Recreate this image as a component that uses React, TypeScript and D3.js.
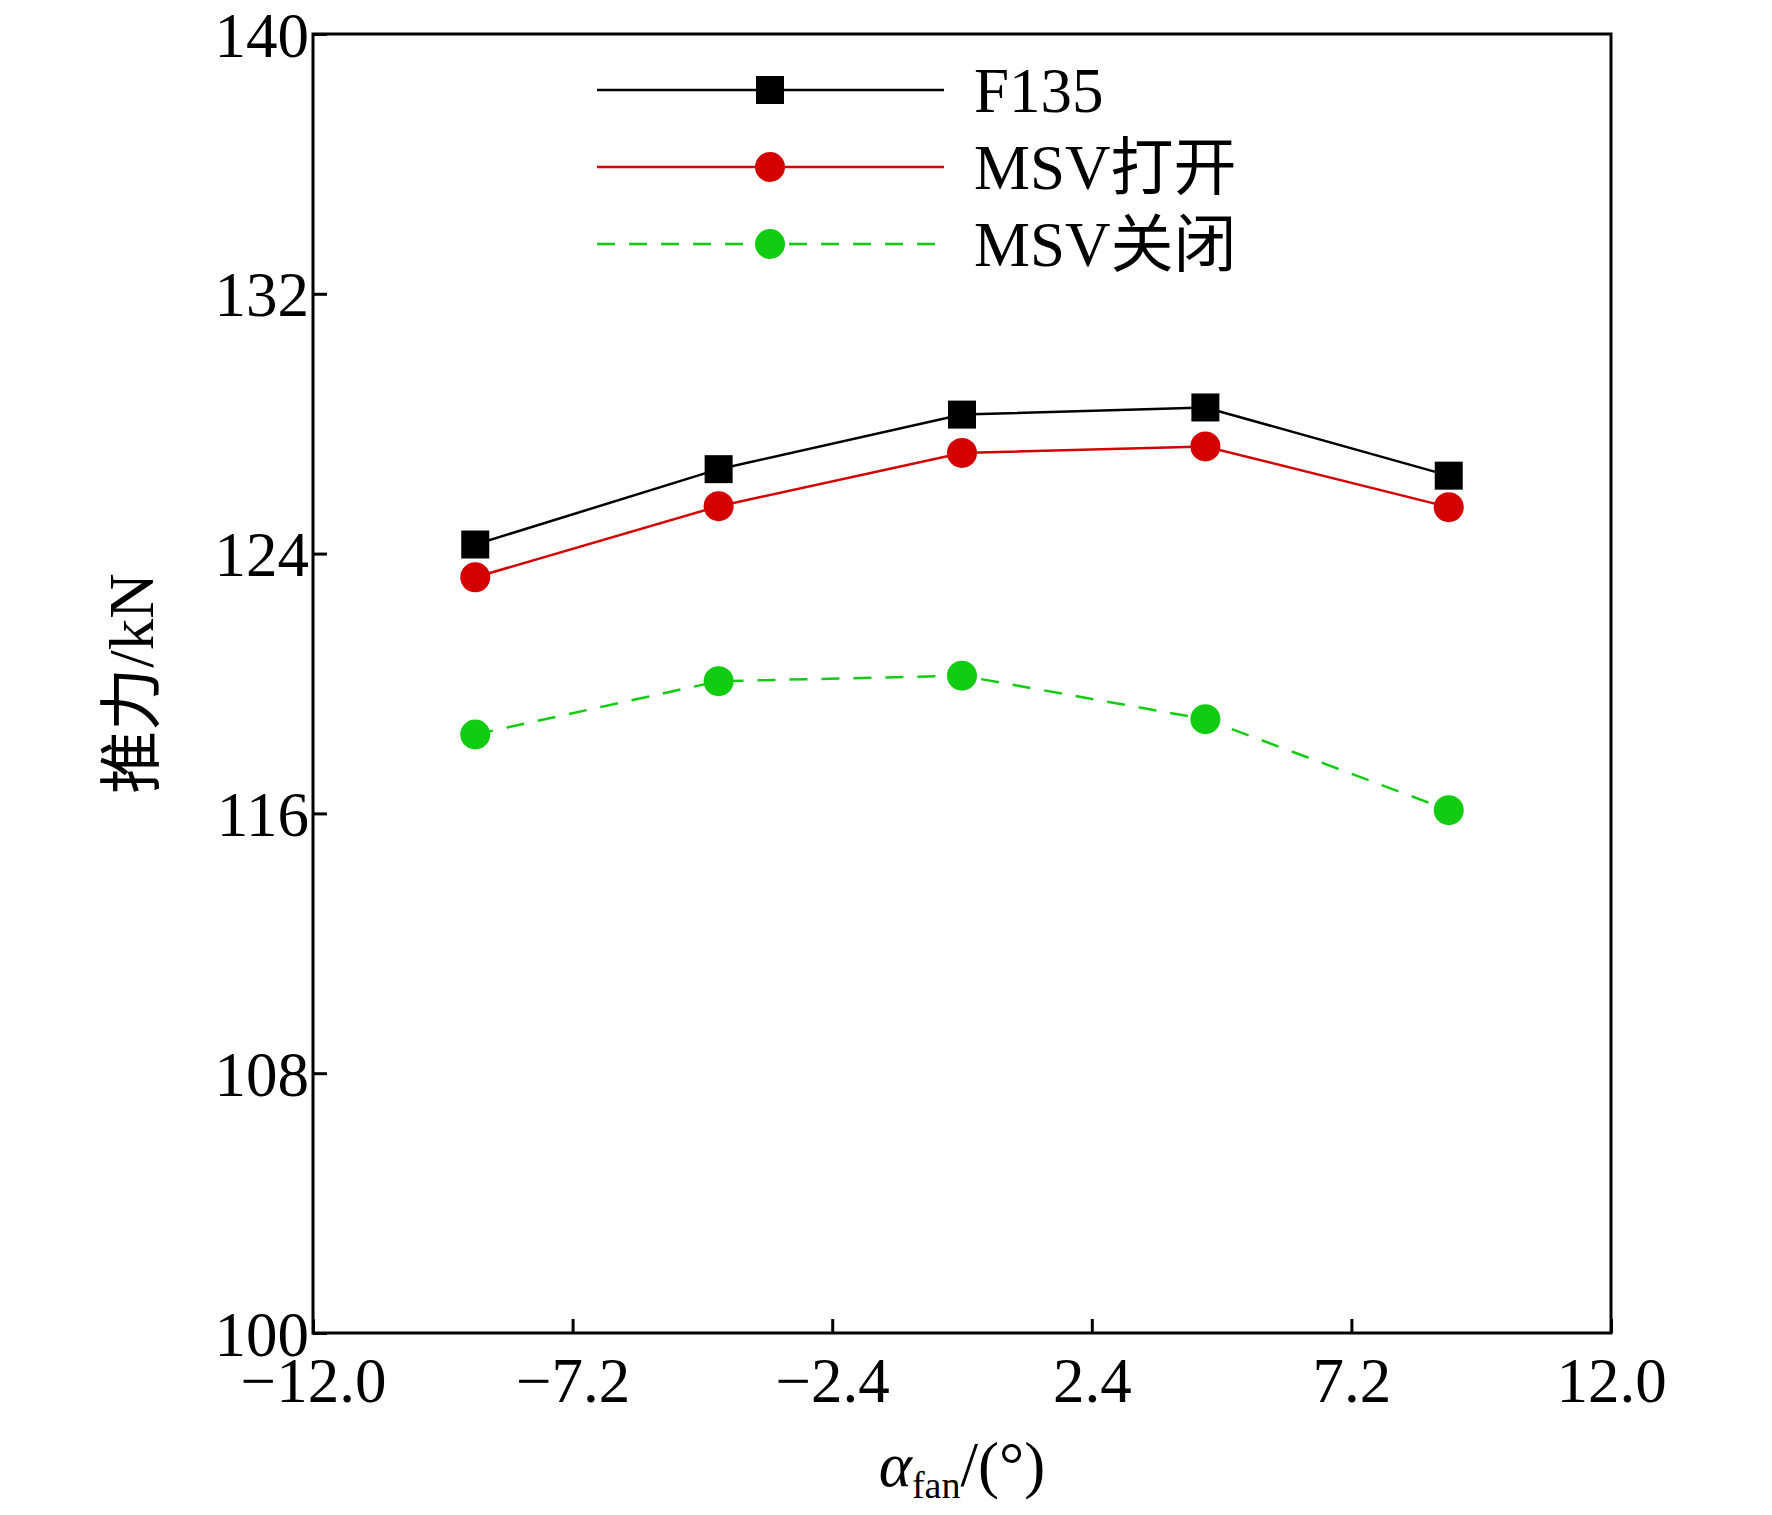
import React, { useEffect, useRef } from "react";
import * as d3 from "d3";

const xValues = [-9, -4.5, 0, 4.5, 9];
const f135 = [124.28, 126.6, 128.28, 128.5, 126.4];
const msvOpen = [123.27, 125.46, 127.1, 127.3, 125.43];
const msvClosed = [118.43, 120.07, 120.24, 118.9, 116.1];
const xTicks = [-12, -7.2, -2.4, 2.4, 7.2, 12];
const yTicks = [100, 108, 116, 124, 132, 140];

const series = [
  { name: "F135", values: f135, color: "#000000", marker: "square", dash: "" },
  { name: "MSV打开", values: msvOpen, color: "#d40000", marker: "circle", dash: "" },
  { name: "MSV关闭", values: msvClosed, color: "#11cc11", marker: "circle", dash: "18,14" },
];

const App: React.FC = () => {
  const svgRef = useRef<SVGSVGElement | null>(null);

  useEffect(() => {
    const svg = d3.select(svgRef.current);
    svg.selectAll("*").remove();
    const font = "'Liberation Serif', 'Noto Sans CJK SC', serif";
    const left = 305, right = 1603, top = 26, bottom = 1325;
    const x = d3.scaleLinear().domain([-12, 12]).range([left, right]);
    const y = d3.scaleLinear().domain([100, 140]).range([bottom, top]);

    svg.append("rect").attr("x", left).attr("y", top).attr("width", right - left)
      .attr("height", bottom - top).attr("fill", "none").attr("stroke", "#000").attr("stroke-width", 3);

    const xAxis = svg.append("g").attr("transform", `translate(0,${bottom})`)
      .call(d3.axisBottom(x).tickValues(xTicks).tickSize(-14).tickPadding(24)
        .tickFormat((d) => { const v = d as number; return (v < 0 ? "\u2212" : "") + Math.abs(v).toFixed(1); }));
    const yAxis = svg.append("g").attr("transform", `translate(${left},0)`)
      .call(d3.axisLeft(y).tickValues(yTicks).tickSize(-14).tickPadding(4).tickFormat(d3.format("d")));
    [xAxis, yAxis].forEach((g) => {
      g.select(".domain").remove();
      g.selectAll(".tick line").attr("stroke", "#000").attr("stroke-width", 3);
      g.selectAll(".tick text").attr("fill", "#000").style("font-family", font).style("font-size", "63px");
    });
    yAxis.selectAll(".tick text").attr("dy", "0.35em");

    const line = d3.line<number>().x((_, i) => x(xValues[i])).y((d) => y(d));
    series.forEach((s) => {
      svg.append("path").datum(s.values).attr("d", line).attr("fill", "none")
        .attr("stroke", s.color).attr("stroke-width", 2.5).attr("stroke-dasharray", s.dash);
      s.values.forEach((v, i) => {
        if (s.marker === "square") {
          svg.append("rect").attr("x", x(xValues[i]) - 14).attr("y", y(v) - 14)
            .attr("width", 28).attr("height", 28).attr("fill", s.color);
        } else {
          svg.append("circle").attr("cx", x(xValues[i])).attr("cy", y(v)).attr("r", 15).attr("fill", s.color);
        }
      });
    });

    // legend
    series.forEach((s, i) => {
      const ly = 82 + i * 77;
      svg.append("line").attr("x1", 589).attr("x2", 936).attr("y1", ly).attr("y2", ly)
        .attr("stroke", s.color).attr("stroke-width", 2.5).attr("stroke-dasharray", s.dash);
      if (s.marker === "square") {
        svg.append("rect").attr("x", 748).attr("y", ly - 14).attr("width", 28).attr("height", 28).attr("fill", s.color);
      } else {
        svg.append("circle").attr("cx", 762).attr("cy", ly).attr("r", 15).attr("fill", s.color);
      }
      svg.append("text").attr("x", 966).attr("y", ly).attr("dy", "0.35em").text(s.name)
        .style("font-family", font).style("font-size", "63px");
    });

    const xl = svg.append("text").attr("x", (left + right) / 2).attr("y", 1478).attr("text-anchor", "middle")
      .style("font-family", font).style("font-size", "63px");
    xl.append("tspan").attr("font-style", "italic").text("α");
    xl.append("tspan").attr("font-size", "38px").attr("dy", "12").text("fan");
    xl.append("tspan").attr("dy", "-12").text("/(°)");

    svg.append("text").attr("transform", `translate(145,${(top + bottom) / 2}) rotate(-90)`)
      .attr("text-anchor", "middle").style("font-family", font).style("font-size", "63px").text("推力/kN");
  }, []);

  return <svg ref={svgRef} width={1756} height={1499} style={{ display: "block", background: "#fff" }} />;
};

export default App;
